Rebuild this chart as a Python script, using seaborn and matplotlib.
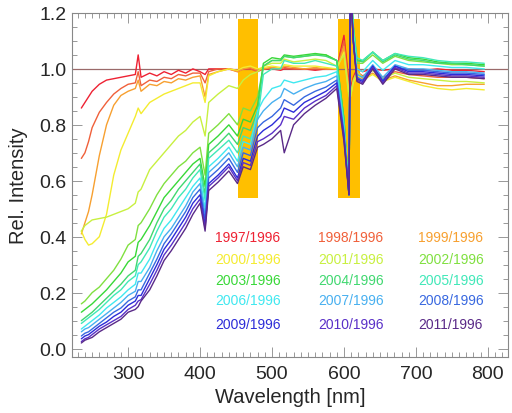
import pandas as pd
import matplotlib
matplotlib.use('Agg')
import matplotlib.pyplot as plt
from matplotlib.ticker import MultipleLocator, FormatStrFormatter
import seaborn as sns

# common wavelength grid [nm]
wavelength = [235, 240, 245, 250, 260, 270, 280, 290, 300, 310, 314, 318,
              330, 340, 350, 360, 370, 380, 390, 400, 407, 412, 425, 440,
              452, 460, 470, 480, 488, 500, 512, 517, 530, 545, 560, 575, 590,
              600, 607, 609, 613, 618,
              626, 640, 654, 671, 690, 710, 730, 750, 770, 795]

r1997 = [0.86, 0.88, 0.90, 0.92, 0.945, 0.96, 0.965, 0.97, 0.975, 0.98, 1.05, 0.97,
         0.985, 0.975, 0.99, 0.98, 0.995, 0.985, 1.0, 0.99, 0.98, 1.0, 1.0, 1.0,
         0.995, 1.0, 1.0, 0.995, 1.0, 1.0, 0.995, 1.0, 1.0, 1.0, 0.995, 1.0, 1.0,
         1.12, 0.95, 0.93, 0.97, 1.0,
         0.99, 1.0, 0.995, 1.0, 1.0, 0.995, 1.0, 0.995, 0.995, 0.99]
r1998 = [0.68, 0.70, 0.74, 0.79, 0.845, 0.88, 0.91, 0.93, 0.945, 0.95, 0.99, 0.94,
         0.96, 0.955, 0.97, 0.965, 0.98, 0.975, 0.985, 0.985, 0.95, 0.99, 1.0, 1.0,
         0.99, 1.0, 1.0, 0.99, 1.0, 1.005, 1.0, 1.005, 1.0, 1.0, 1.0, 1.0, 1.0,
         1.1, 0.93, 0.92, 0.96, 0.99,
         0.975, 0.995, 0.97, 0.99, 0.98, 0.975, 0.97, 0.97, 0.97, 0.965]
r1999 = [0.41, 0.45, 0.49, 0.55, 0.69, 0.80, 0.87, 0.905, 0.92, 0.93, 0.96, 0.92,
         0.945, 0.94, 0.955, 0.95, 0.965, 0.96, 0.97, 0.975, 0.90, 0.98, 0.99, 1.0,
         0.99, 1.0, 1.005, 0.995, 1.0, 1.005, 1.0, 1.01, 1.005, 1.0, 1.005, 1.0, 1.0,
         1.08, 0.92, 0.91, 0.95, 0.985,
         0.965, 0.985, 0.96, 0.975, 0.96, 0.95, 0.94, 0.94, 0.945, 0.945]
r2000 = [0.42, 0.39, 0.37, 0.375, 0.40, 0.48, 0.62, 0.71, 0.77, 0.83, 0.86, 0.84,
         0.88, 0.895, 0.91, 0.92, 0.93, 0.94, 0.95, 0.95, 0.88, 0.975, 0.99, 1.0,
         0.995, 1.005, 1.01, 1.0, 1.005, 1.01, 1.005, 1.015, 1.01, 1.01, 1.01, 1.005, 1.0,
         1.06, 0.91, 0.90, 0.95, 0.98,
         0.96, 0.98, 0.955, 0.97, 0.955, 0.94, 0.93, 0.925, 0.93, 0.925]
r2001 = [0.42, 0.44, 0.45, 0.46, 0.465, 0.47, 0.48, 0.49, 0.50, 0.52, 0.56, 0.57,
         0.64, 0.67, 0.70, 0.73, 0.76, 0.78, 0.81, 0.83, 0.76, 0.88, 0.91, 0.94,
         0.93, 0.96, 0.98, 0.99, 1.01, 1.02, 1.02, 1.035, 1.025, 1.03, 1.035, 1.03, 1.01,
         1.05, 0.90, 0.90, 0.96, 0.99,
         0.97, 0.995, 0.965, 0.985, 0.97, 0.965, 0.96, 0.955, 0.955, 0.95]
r2002 = [0.16, 0.17, 0.185, 0.20, 0.22, 0.25, 0.28, 0.32, 0.37, 0.39, 0.44, 0.45,
         0.50, 0.55, 0.59, 0.62, 0.65, 0.67, 0.70, 0.72, 0.62, 0.77, 0.80, 0.84,
         0.80, 0.86, 0.85, 0.90, 1.01, 1.03, 1.03, 1.045, 1.04, 1.045, 1.05, 1.05, 1.03,
         0.82, 0.55, 1.3, 1.15, 1.02,
         1.02, 1.05, 1.02, 1.045, 1.03, 1.025, 1.02, 1.015, 1.015, 1.01]
r2003 = [0.13, 0.14, 0.15, 0.16, 0.185, 0.21, 0.24, 0.27, 0.31, 0.33, 0.38, 0.39,
         0.44, 0.49, 0.54, 0.57, 0.60, 0.63, 0.66, 0.68, 0.58, 0.73, 0.76, 0.80,
         0.76, 0.82, 0.81, 0.87, 1.02, 1.04, 1.035, 1.05, 1.045, 1.05, 1.055, 1.05, 1.03,
         0.82, 0.55, 1.3, 1.15, 1.03,
         1.03, 1.06, 1.03, 1.055, 1.04, 1.035, 1.025, 1.02, 1.02, 1.015]
r2004 = [0.10, 0.11, 0.12, 0.13, 0.155, 0.18, 0.205, 0.23, 0.26, 0.28, 0.33, 0.34,
         0.39, 0.45, 0.50, 0.53, 0.57, 0.60, 0.63, 0.66, 0.55, 0.70, 0.73, 0.77,
         0.73, 0.79, 0.78, 0.85, 1.01, 1.03, 1.03, 1.045, 1.04, 1.045, 1.05, 1.045, 1.03,
         0.82, 0.55, 1.3, 1.15, 1.03,
         1.025, 1.06, 1.025, 1.05, 1.035, 1.03, 1.02, 1.02, 1.015, 1.01]
r2005 = [0.09, 0.10, 0.11, 0.12, 0.14, 0.165, 0.19, 0.21, 0.24, 0.26, 0.30, 0.31,
         0.36, 0.42, 0.47, 0.50, 0.54, 0.57, 0.61, 0.64, 0.53, 0.68, 0.71, 0.745,
         0.70, 0.76, 0.75, 0.82, 0.98, 1.0, 1.0, 1.03, 1.02, 1.02, 1.03, 1.02, 1.01,
         0.80, 0.55, 1.3, 1.15, 1.04,
         1.03, 1.06, 1.03, 1.055, 1.045, 1.04, 1.03, 1.025, 1.025, 1.02]
r2006 = [0.07, 0.08, 0.09, 0.10, 0.12, 0.145, 0.165, 0.185, 0.21, 0.23, 0.27, 0.27,
         0.32, 0.38, 0.43, 0.46, 0.50, 0.54, 0.58, 0.61, 0.50, 0.65, 0.68, 0.72,
         0.67, 0.74, 0.73, 0.85, 0.89, 0.93, 0.94, 0.96, 0.95, 0.96, 0.97, 0.975, 0.99,
         0.79, 0.55, 1.3, 1.12, 1.0,
         0.99, 1.03, 0.995, 1.03, 1.015, 1.015, 1.01, 1.005, 1.005, 1.0]
r2007 = [0.06, 0.07, 0.075, 0.085, 0.105, 0.125, 0.145, 0.165, 0.19, 0.205, 0.24, 0.24,
         0.29, 0.35, 0.40, 0.43, 0.47, 0.51, 0.56, 0.59, 0.48, 0.63, 0.66, 0.70,
         0.65, 0.72, 0.71, 0.82, 0.85, 0.88, 0.90, 0.93, 0.91, 0.93, 0.945, 0.955, 0.975,
         0.78, 0.55, 1.3, 1.1, 0.98,
         0.97, 1.015, 0.97, 1.015, 1.0, 1.0, 0.995, 0.99, 0.99, 0.985]
r2008 = [0.045, 0.055, 0.06, 0.07, 0.09, 0.11, 0.13, 0.145, 0.17, 0.185, 0.21, 0.21,
         0.27, 0.32, 0.375, 0.41, 0.45, 0.49, 0.54, 0.57, 0.46, 0.61, 0.64, 0.68,
         0.63, 0.70, 0.69, 0.79, 0.81, 0.83, 0.86, 0.89, 0.87, 0.90, 0.92, 0.935, 0.96,
         0.77, 0.55, 1.3, 1.1, 0.97,
         0.96, 1.01, 0.96, 1.01, 0.995, 0.995, 0.99, 0.985, 0.985, 0.98]
r2009 = [0.035, 0.045, 0.05, 0.06, 0.08, 0.095, 0.115, 0.13, 0.155, 0.17, 0.19, 0.19,
         0.25, 0.30, 0.355, 0.39, 0.43, 0.47, 0.52, 0.55, 0.44, 0.59, 0.62, 0.66,
         0.61, 0.68, 0.67, 0.76, 0.78, 0.80, 0.83, 0.86, 0.845, 0.88, 0.90, 0.92, 0.95,
         0.76, 0.55, 1.3, 1.1, 0.965,
         0.955, 1.01, 0.955, 1.01, 0.99, 0.99, 0.985, 0.98, 0.98, 0.975]
r2010 = [0.025, 0.035, 0.04, 0.05, 0.07, 0.085, 0.10, 0.115, 0.14, 0.155, 0.17, 0.175,
         0.23, 0.28, 0.335, 0.37, 0.41, 0.45, 0.50, 0.535, 0.43, 0.58, 0.61, 0.65,
         0.60, 0.665, 0.655, 0.74, 0.75, 0.77, 0.80, 0.83, 0.82, 0.86, 0.885, 0.905, 0.94,
         0.75, 0.55, 1.3, 1.1, 0.96,
         0.95, 1.005, 0.95, 1.005, 0.985, 0.985, 0.98, 0.975, 0.975, 0.97]
r2011 = [0.02, 0.03, 0.035, 0.04, 0.06, 0.075, 0.09, 0.105, 0.13, 0.14, 0.15, 0.17,
         0.21, 0.26, 0.315, 0.35, 0.39, 0.43, 0.48, 0.52, 0.42, 0.565, 0.595, 0.635,
         0.59, 0.65, 0.64, 0.72, 0.73, 0.75, 0.78, 0.70, 0.80, 0.84, 0.87, 0.895, 0.93,
         0.74, 0.55, 1.3, 1.1, 0.955,
         0.945, 1.0, 0.945, 1.0, 0.98, 0.98, 0.975, 0.97, 0.97, 0.965]

years = list(range(1997, 2012))
series = [r1997, r1998, r1999, r2000, r2001, r2002, r2003, r2004,
          r2005, r2006, r2007, r2008, r2009, r2010, r2011]
colors = ['#ee2233', '#f0603a', '#f7a030', '#f4ec30', '#c8f040',
          '#80e040', '#38d838', '#40d870', '#40e8b8', '#40e8f0',
          '#48b0f0', '#3868e0', '#2c2cd8', '#5a30c8', '#5a2a88']

# highlighted wavelength bands
bands = [(453, 481), (592, 622)]
band_y = (0.54, 1.18)

labels = [f'{y}/1996' for y in years]
df = pd.concat([pd.DataFrame({'wl': wavelength, 'rel': s, 'ratio': lab})
                for s, lab in zip(series, labels)], ignore_index=True)

sns.set_style('ticks')
plt.rcParams['font.family'] = ['Liberation Sans', 'DejaVu Sans']

fig = plt.figure(figsize=(5.12, 4.14), dpi=100)
ax = fig.add_axes([0.1406, 0.1353, 0.8516, 0.831])

for lo, hi in bands:
    ax.fill_between([lo, hi], band_y[0], band_y[1], color='#ffbf00', lw=0, zorder=1)
ax.axhline(1.0, color='#9a6a6a', lw=0.9, zorder=2)

sns.lineplot(data=df, x='wl', y='rel', hue='ratio', palette=colors,
             lw=1.0, legend=False, errorbar=None, ax=ax, zorder=3)

# coloured year labels, three columns
col_x = [421, 564, 703]
row_y = [0.399, 0.321, 0.244, 0.172, 0.089]
for i, (lab, c) in enumerate(zip(labels, colors)):
    ax.text(col_x[i % 3], row_y[i // 3], lab, color=c, fontsize=10,
            va='center', ha='left')

ax.set_xlim(222, 828)
ax.set_ylim(-0.03, 1.2)
ax.xaxis.set_major_locator(MultipleLocator(100))
ax.xaxis.set_minor_locator(MultipleLocator(10))
ax.yaxis.set_major_locator(MultipleLocator(0.2))
ax.yaxis.set_minor_locator(MultipleLocator(0.05))
ax.yaxis.set_major_formatter(FormatStrFormatter('%.1f'))
ax.tick_params(which='both', direction='in', top=True, right=True,
               color='#888888', width=0.6, labelsize=14)
ax.tick_params(which='major', length=7)
ax.tick_params(which='minor', length=3.5)
ax.tick_params(axis='x', pad=6)
ax.tick_params(axis='y', pad=4)
for sp in ax.spines.values():
    sp.set_color('#888888')
    sp.set_linewidth(0.8)

ax.set_xlabel('Wavelength [nm]', fontsize=14.5)
ax.set_ylabel('Rel. Intensity', fontsize=14.5)
ax.xaxis.set_label_coords(0.5, -0.087)
ax.yaxis.set_label_coords(-0.10, 0.5)

fig.savefig('out.png', dpi=100)
